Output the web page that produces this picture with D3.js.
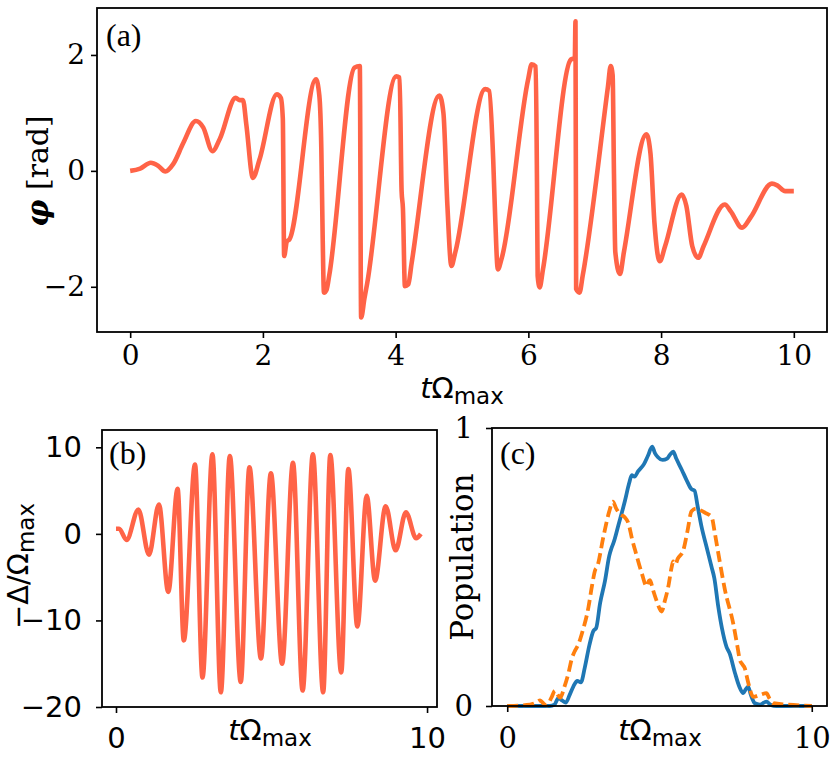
<!DOCTYPE html>
<html>
<head>
<meta charset="utf-8">
<script src="https://d3js.org/d3.v7.min.js"></script>
<style>
body { margin: 0; background: #fff; }
</style>
</head>
<body>
<script>
// (a) phase of the drive
var phaseT = [0.00, 0.15, 0.31, 0.42, 0.53, 0.65, 0.80, 0.99, 1.10, 1.24, 1.35, 1.59, 1.65, 1.70, 1.75, 1.85, 1.95,
    2.21, 2.27, 2.30, 2.32, 2.36, 2.40, 2.80, 2.85, 2.88, 2.90, 2.92, 2.96, 3.00, 3.38, 3.46, 3.48, 3.53, 3.57,
    4.01, 4.06, 4.09, 4.11, 4.14, 4.19, 4.24, 4.66, 4.72, 4.78, 4.84, 4.90, 5.35, 5.41, 5.47, 5.50, 5.54, 5.60,
    6.00, 6.05, 6.11, 6.13, 6.14, 6.17, 6.22, 6.64, 6.70, 6.71, 6.72, 6.77, 6.82, 7.20, 7.24, 7.27, 7.29, 7.31,
    7.38, 7.44, 7.78, 7.84, 7.90, 7.98, 8.06, 8.31, 8.38, 8.47, 8.56, 8.64, 8.96, 9.05, 9.22, 9.35, 9.67, 9.75,
    9.87, 10.00];
var phaseVal = [0.00, 0.04, 0.14, 0.09, -0.01, 0.12, 0.48, 0.86, 0.75, 0.34, 0.55, 1.26, 1.22, 1.22, 0.80, -0.12, 0.20,
    1.32, 1.26, 0.90, -1.47, -1.22, -1.18, 1.58, 1.30, 0.40, -1.10, -2.10, -2.05, -1.80, 1.78, 1.81, -2.53, -2.20, -1.95,
    1.63, 1.61, -0.35, -0.65, -1.99, -1.96, -1.60, 1.30, 1.00, -0.60, -1.64, -1.40, 1.41, 1.38, 0.20, -0.80, -1.70, -1.50,
    1.60, 1.84, 1.80, -0.20, -1.81, -2.01, -1.70, 1.92, 1.95, 2.58, -2.04, -2.10, -1.80, 1.46, 1.81, 1.65, -0.05, -1.40,
    -1.78, -1.40, 0.63, 0.30, -0.90, -1.56, -1.30, -0.41, -0.60, -1.30, -1.50, -1.30, -0.58, -0.70, -0.98, -0.80, -0.22, -0.25,
    -0.35, -0.35];

// (b) detuning
var detT = [0.00, 0.10, 0.34, 0.72, 1.06, 1.38, 1.68, 1.98, 2.18, 2.54, 2.78, 3.10, 3.37, 3.66, 4.01, 4.29, 4.66,
    4.98, 5.34, 5.69, 6.00, 6.33, 6.66, 6.89, 7.24, 7.47, 7.76, 8.06, 8.33, 8.67, 8.99, 9.32, 9.65, 9.80];
var detVal = [0.6, 0.6, -0.7, 2.8, -2.4, 3.4, -6.7, 5.2, -12.3, 8.0, -16.6, 9.2, -18.3, 9.0, -17.1, 7.7, -14.4,
    7.0, -15.0, 8.2, -18.1, 9.2, -18.3, 9.1, -16.0, 7.5, -10.7, 4.4, -5.4, 3.2, -1.9, 2.5, -0.5, 0.0];

// (c) populations
var popT = [0, 1.40, 1.55, 1.68, 1.80, 1.92, 2.05, 2.17, 2.30, 2.42, 2.55, 2.70, 2.83, 2.92, 3.05, 3.21, 3.35, 3.43,
    3.50, 3.65, 3.87, 4.00, 4.09, 4.18, 4.30, 4.49, 4.62, 4.76, 4.85, 4.95, 5.10, 5.25, 5.35, 5.45, 5.55, 5.73, 5.90,
    6.05, 6.15, 6.25, 6.38, 6.55, 6.71, 6.80, 6.93, 7.05, 7.20, 7.30, 7.48, 7.62, 7.75, 7.83, 7.91, 8.00, 8.13, 8.30,
    8.51, 8.65, 8.84, 10.0];
var popSolid = [0, 0, 0.005, 0.028, 0.02, 0.012, 0.04, 0.07, 0.09, 0.085, 0.14, 0.22, 0.27, 0.28, 0.37, 0.45, 0.54, 0.57,
    0.59, 0.65, 0.74, 0.80, 0.83, 0.825, 0.845, 0.87, 0.90, 0.933, 0.91, 0.895, 0.885, 0.89, 0.905, 0.915, 0.89, 0.85, 0.81,
    0.78, 0.775, 0.72, 0.645, 0.57, 0.50, 0.46, 0.357, 0.28, 0.213, 0.19, 0.118, 0.07, 0.046, 0.06, 0.07, 0.04, 0.01, 0.005,
    0.016, 0.004, 0, 0];
var popDashT = [0, 0.75, 0.95, 1.08, 1.20, 1.30, 1.45, 1.57, 1.66, 1.74, 1.88, 2.01, 2.12, 2.23, 2.33, 2.45, 2.67, 2.78,
    2.89, 2.95, 3.16, 3.35, 3.47, 3.58, 3.70, 3.85, 3.98, 4.10, 4.20, 4.42, 4.58, 4.65, 4.69, 4.78, 4.90, 5.07, 5.18, 5.29,
    5.40, 5.45, 5.52, 5.60, 5.78, 5.92, 6.05, 6.20, 6.33, 6.50, 6.71, 6.82, 6.93, 7.15, 7.42, 7.55, 7.64, 7.72, 7.80, 7.90,
    8.08, 8.30, 8.51, 8.62, 8.73, 9.17, 10.0];
var popDashed = [0, 0.005, 0.012, 0.02, 0.008, 0.002, 0.03, 0.055, 0.04, 0.03, 0.07, 0.118, 0.17, 0.20, 0.22, 0.26, 0.357, 0.43,
    0.49, 0.50, 0.61, 0.70, 0.735, 0.71, 0.69, 0.68, 0.657, 0.60, 0.56, 0.477, 0.43, 0.45, 0.453, 0.42, 0.38, 0.34, 0.38, 0.43,
    0.50, 0.52, 0.51, 0.53, 0.56, 0.63, 0.70, 0.71, 0.705, 0.695, 0.68, 0.62, 0.55, 0.417, 0.297, 0.22, 0.165, 0.15, 0.136, 0.09,
    0.033, 0.04, 0.046, 0.025, 0.01, 0.005, 0];

var width = 832;
var height = 762;

var svg = d3.select("body")
    .append("svg")
    .attr("width", width)
    .attr("height", height);

svg.append("rect")
    .attr("width", width)
    .attr("height", height)
    .attr("fill", "#fff");

var serif = "'DejaVu Serif', serif";
var sans = "'DejaVu Sans', sans-serif";
var tnr = "'Liberation Serif', 'DejaVu Serif', serif";

function makePanel(box, xDomain, yDomain) {
    return {
        box: box,
        x: d3.scaleLinear().domain(xDomain).range([box.left, box.right]),
        y: d3.scaleLinear().domain(yDomain).range([box.bottom, box.top])
    };
}

var pa = makePanel({left: 97, top: 8, right: 827, bottom: 332}, [-0.5, 10.5], [-2.78, 2.81]);
var pb = makePanel({left: 102, top: 430, right: 437, bottom: 707}, [-0.45, 10.32], [-20, 12]);
var pc = makePanel({left: 492, top: 428, right: 827, bottom: 706}, [-0.5, 10.5], [0, 1]);

function drawAxes(p, opt) {
    var fmt = d3.format("d");
    var gx = svg.append("g")
        .attr("transform", "translate(0," + p.box.bottom + ")")
        .call(d3.axisBottom(p.x).tickValues(opt.xTicks).tickSize(6).tickPadding(opt.xPad).tickFormat(fmt));
    var gy = svg.append("g")
        .attr("transform", "translate(" + p.box.left + ",0)")
        .call(d3.axisLeft(p.y).tickValues(opt.yTicks).tickSize(6).tickPadding(opt.yPad).tickFormat(fmt));
    [gx, gy].forEach(function(g) {
        g.select(".domain").remove();
        g.attr("font-family", opt.font).attr("font-size", opt.size);
        g.selectAll("line").attr("stroke", "#000").attr("stroke-width", 1.6);
        g.selectAll("text").attr("fill", "#000");
    });
}

function drawLine(p, xs, ys, color, w, dash) {
    var pts = xs.map(function(d, i) { return [d, ys[i]]; });
    var line = d3.line()
        .x(function(d) { return p.x(d[0]); })
        .y(function(d) { return p.y(d[1]); })
        .curve(d3.curveMonotoneX);
    svg.append("path")
        .datum(pts)
        .attr("d", line)
        .attr("fill", "none")
        .attr("stroke", color)
        .attr("stroke-width", w)
        .attr("stroke-linejoin", "round")
        .attr("stroke-dasharray", dash || null);
}

function drawFrame(p) {
    svg.append("rect")
        .attr("x", p.box.left)
        .attr("y", p.box.top)
        .attr("width", p.box.right - p.box.left)
        .attr("height", p.box.bottom - p.box.top)
        .attr("fill", "none")
        .attr("stroke", "#000")
        .attr("stroke-width", 1.8);
}

// t Omega_max label, mathtext style
function timeLabel(cx, baseline) {
    var t = svg.append("text")
        .attr("x", cx)
        .attr("y", baseline)
        .attr("text-anchor", "middle")
        .attr("font-family", sans)
        .attr("font-size", 29)
        .attr("fill", "#000");
    t.append("tspan").attr("font-style", "italic").text("t");
    t.append("tspan").text("Ω");
    t.append("tspan").attr("font-size", 23).attr("dy", 6).text("max");
}

function panelTag(x, y, s) {
    svg.append("text")
        .attr("x", x)
        .attr("y", y)
        .attr("font-family", tnr)
        .attr("font-size", 32)
        .attr("fill", "#000")
        .text(s);
}

// panel (a)
drawLine(pa, phaseT, phaseVal, "tomato", 4.6);
drawFrame(pa);
drawAxes(pa, {xTicks: [0, 2, 4, 6, 8, 10], yTicks: [-2, 0, 2], xPad: 7, yPad: 6, font: serif, size: 28});
timeLabel(462, 398);
var ya = svg.append("text")
    .attr("transform", "translate(48,171) rotate(-90)")
    .attr("text-anchor", "middle")
    .attr("font-family", serif)
    .attr("font-size", 30)
    .attr("fill", "#000");
ya.append("tspan").attr("font-weight", "bold").attr("font-style", "italic").text("φ");
ya.append("tspan").text(" [rad]");
panelTag(106, 46, "(a)");

// panel (b)
drawLine(pb, detT, detVal, "tomato", 4.6);
drawFrame(pb);
drawAxes(pb, {xTicks: [0, 10], yTicks: [-20, -10, 0, 10], xPad: 14, yPad: 14, font: sans, size: 29});
timeLabel(270, 740);
var yb = svg.append("text")
    .attr("transform", "translate(28,566) rotate(-90)")
    .attr("text-anchor", "middle")
    .attr("font-family", sans)
    .attr("font-size", 29)
    .attr("fill", "#000");
yb.append("tspan").text("−Δ/Ω");
yb.append("tspan").attr("font-size", 23).attr("dy", 6).text("max");
panelTag(109, 464, "(b)");

// panel (c)
drawLine(pc, popT, popSolid, "#1f77b4", 3.8);
drawLine(pc, popDashT, popDashed, "#ff7f0e", 3.8, "11,5");
drawFrame(pc);
drawAxes(pc, {xTicks: [0, 10], yTicks: [0, 1], xPad: 15, yPad: 13, font: serif, size: 29});
timeLabel(660, 740);
svg.append("text")
    .attr("transform", "translate(473,557) rotate(-90)")
    .attr("text-anchor", "middle")
    .attr("font-family", serif)
    .attr("font-size", 31)
    .attr("fill", "#000")
    .text("Population");
panelTag(500, 464, "(c)");
</script>
</body>
</html>
